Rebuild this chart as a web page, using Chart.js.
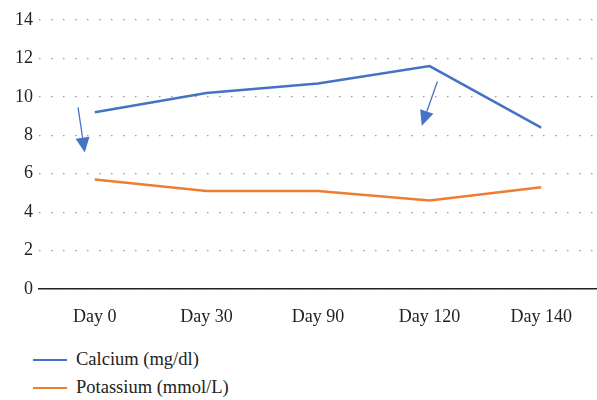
<!DOCTYPE html>
<html>
<head>
<meta charset="utf-8">
<script src="https://cdn.jsdelivr.net/npm/chart.js@4/dist/chart.umd.min.js"></script>
<style>
  html, body { margin: 0; padding: 0; background: #fff; }
  #wrap { position: relative; width: 597px; height: 400px; font-family: "Liberation Serif", serif; }
  #chart { position: absolute; left: 0; top: 0; }
  .leg { position: absolute; left: 33px; font-size: 18.5px; color: #222; display: flex; align-items: center; }
  .leg span.ln { display: inline-block; width: 34px; height: 2px; margin-right: 9px; }
</style>
</head>
<body>
<div id="wrap">
  <canvas id="chart" width="597" height="330"></canvas>
  <div class="leg" style="top:349px"><span class="ln" style="background:#4472C4"></span>Calcium (mg/dl)</div>
  <div class="leg" style="top:377px"><span class="ln" style="background:#ED7D31"></span>Potassium (mmol/L)</div>
</div>
<script>
// data
const days = ['Day 0', 'Day 30', 'Day 90', 'Day 120', 'Day 140'];
const calcium = [9.2, 10.2, 10.7, 11.6, 8.4];
const potassium = [5.7, 5.1, 5.1, 4.6, 5.3];

// arrows: [x index, y value] start -> tip
const arrowStarts = [[-0.15, 9.45], [3.07, 10.8]];
const arrowTips = [[-0.09, 7.1], [2.93, 8.5]];

// annotation arrows
const arrowPlugin = {
  id: 'arrows',
  afterDatasetsDraw(chart) {
    const { ctx, scales: { x, y } } = chart;
    ctx.save();
    ctx.strokeStyle = '#4472C4';
    ctx.fillStyle = '#4472C4';
    ctx.lineWidth = 1.3;
    arrowStarts.forEach((s, i) => {
      const t = arrowTips[i];
      const x1 = x.getPixelForValue(s[0]), y1 = y.getPixelForValue(s[1]);
      const x2 = x.getPixelForValue(t[0]), y2 = y.getPixelForValue(t[1]);
      const ang = Math.atan2(y2 - y1, x2 - x1);
      const hl = 15, hw = 7;
      const bx = x2 - hl * Math.cos(ang), by = y2 - hl * Math.sin(ang);
      ctx.beginPath();
      ctx.moveTo(x1, y1);
      ctx.lineTo(bx, by);
      ctx.stroke();
      ctx.beginPath();
      ctx.moveTo(x2, y2);
      ctx.lineTo(bx + hw * Math.sin(ang), by - hw * Math.cos(ang));
      ctx.lineTo(bx - hw * Math.sin(ang), by + hw * Math.cos(ang));
      ctx.closePath();
      ctx.fill();
    });
    ctx.restore();
  }
};

new Chart(document.getElementById('chart'), {
  type: 'line',
  data: {
    labels: days,
    datasets: [
      { label: 'Calcium (mg/dl)', data: calcium, borderColor: '#4472C4', borderWidth: 2.5, pointRadius: 0, tension: 0 },
      { label: 'Potassium (mmol/L)', data: potassium, borderColor: '#ED7D31', borderWidth: 2.5, pointRadius: 0, tension: 0 }
    ]
  },
  options: {
    responsive: false,
    animation: false,
    layout: { padding: { top: 20, right: 0, left: 0, bottom: 0 } },
    plugins: { legend: { display: false }, tooltip: { enabled: false } },
    scales: {
      x: {
        offset: true,
        grid: { display: false },
        border: { display: true, color: '#222', width: 1.5 },
        ticks: { color: '#222', font: { family: 'Liberation Serif', size: 18 }, padding: 9, maxRotation: 0 },
        afterFit(scale) { scale.height = 41; }
      },
      y: {
        min: 0, max: 14,
        ticks: { stepSize: 2, color: '#222', font: { family: 'Liberation Serif', size: 18 }, padding: 6 },
        grid: { color: '#999', lineWidth: 1.2, drawTicks: false },
        border: { display: false, dash: [1.5, 10.5] },
        afterFit(scale) { scale.width = 39; }
      }
    }
  },
  plugins: [arrowPlugin]
});
</script>
</body>
</html>
